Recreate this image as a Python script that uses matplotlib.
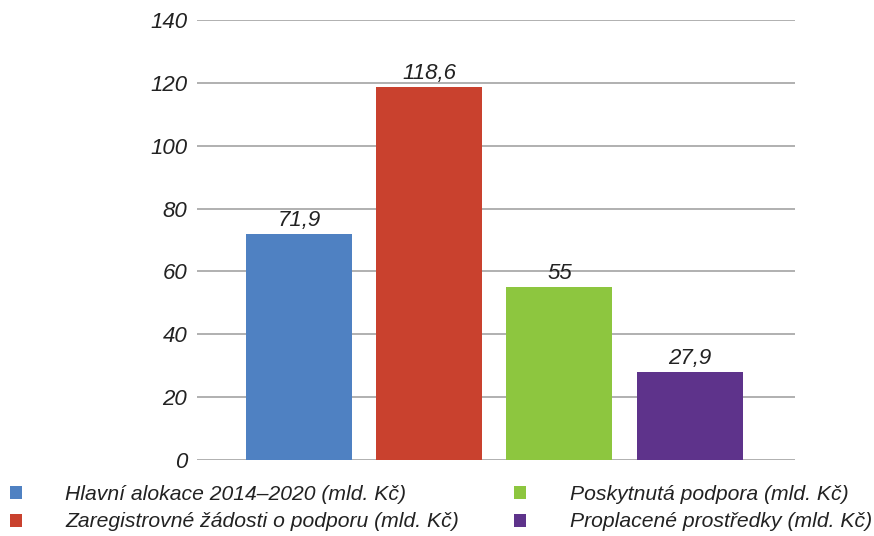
import matplotlib
matplotlib.use("Agg")
import matplotlib.pyplot as plt

categories = ["Hlavní alokace 2014–2020 (mld. Kč)",
              "Zaregistrovné žádosti o podporu (mld. Kč)",
              "Poskytnutá podpora (mld. Kč)",
              "Proplacené prostředky (mld. Kč)"]
values = [71.9, 118.6, 55, 27.9]
value_labels = ["71,9", "118,6", "55", "27,9"]
colors = ["#4F81C2", "#C9412E", "#8DC63F", "#5E338B"]
yticks = [0, 20, 40, 60, 80, 100, 120, 140]

plt.rcParams['font.family'] = ['Liberation Sans', 'DejaVu Sans']

fig = plt.figure(figsize=(8.74, 5.36), dpi=100)
ax = fig.add_axes([197/874, 1-460/536, (795-197)/874, 440/536])

x = list(range(len(values)))
bars = ax.bar(x, values, width=0.815, color=colors, label=categories, zorder=3)
for xi, v, lab in zip(x, values, value_labels):
    ax.annotate(lab, (xi, v), xytext=(0, 2.5), textcoords="offset points",
                ha="center", va="bottom", fontsize=16, style="italic", color="#222222")

ax.set_ylim(0, 140)
ax.set_xlim(-0.785, 3.81)
ax.set_yticks(yticks)
ax.set_yticklabels([str(t) for t in yticks], fontsize=16, style="italic", color="#222222")
ax.set_xticks([])
ax.tick_params(axis="y", length=0, pad=7)
ax.grid(axis="y", color="#AAAAAA", linewidth=1.3, zorder=0)
for s in ax.spines.values():
    s.set_visible(False)

leg = fig.legend(handles=list(bars), labels=categories, ncol=2, loc="upper left",
                 bbox_to_anchor=(1.6/874, 1-477/536), frameon=False,
                 prop={'size': 15.2, 'style': 'italic'},
                 handlelength=0.57, handleheight=0.57, handletextpad=2.05,
                 columnspacing=2.62, labelspacing=0.38, borderaxespad=0.0)
for t in leg.get_texts():
    t.set_color("#222222")

fig.savefig("out.png", dpi=100)
